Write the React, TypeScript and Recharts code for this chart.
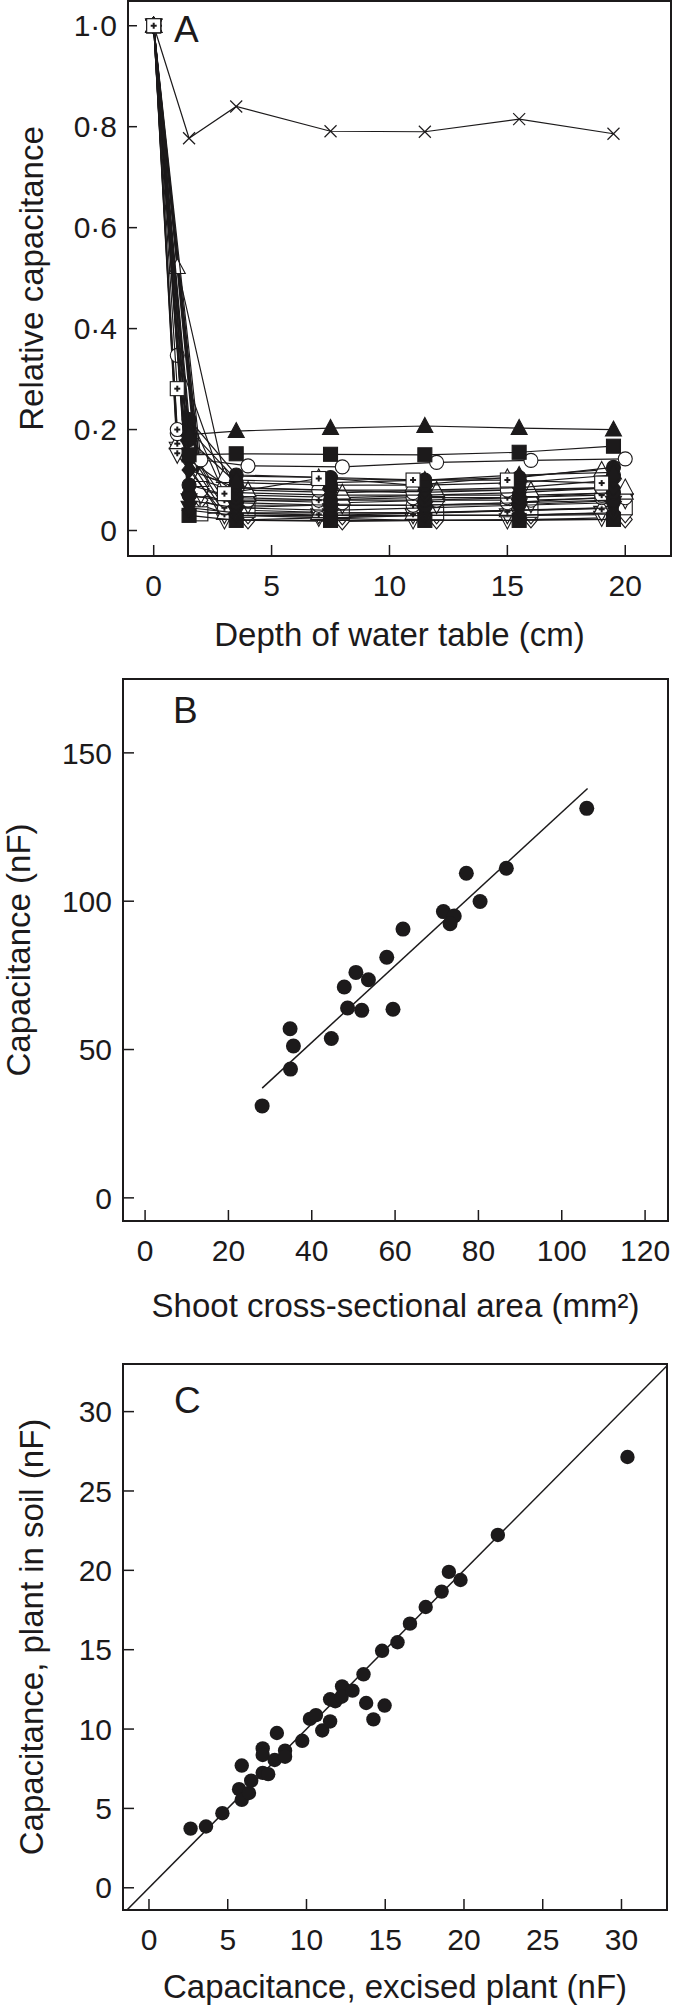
import React from 'react';
import {
  ScatterChart,
  Scatter,
  XAxis,
  YAxis,
  Label,
  ReferenceArea,
  ReferenceLine,
  ReferenceDot,
} from 'recharts';

const INK = '#1c1a1b';
const FONT = '"Liberation Sans", Arial, Helvetica, sans-serif';
const TICK_FS = 30;
const TITLE_FS = 33;
const LETTER_FS = 37;

// ---------------- Panel A data ----------------
const depthTicksA = [0, 5, 10, 15, 20];
const relTicksA = [0, 0.2, 0.4, 0.6, 0.8, 1.0];
// depth positions of the three marker groups (slightly staggered in the figure)
const depthFilled = [0, 1.5, 3.5, 7.5, 11.5, 15.5, 19.5];
const depthPlus = [0, 1, 3, 7, 11, 15, 19];
const depthOpen = [0, 2, 4, 8, 12, 16, 20];

const relCross = [1, 0.777, 0.84, 0.791, 0.79, 0.815, 0.786];
const relTriFilled = [1, 0.19, 0.197, 0.203, 0.207, 0.203, 0.2];
const relSqFilled = [1, 0.15, 0.152, 0.151, 0.15, 0.155, 0.167];
const relTriFilledB = [1, 0.2, 0.1, 0.095, 0.1, 0.11, 0.115];
const relCircFilledA = [1, 0.22, 0.11, 0.105, 0.1, 0.105, 0.125];
const relCircFilledC = [1, 0.18, 0.095, 0.09, 0.09, 0.095, 0.11];
const relDiaFilledC = [1, 0.14, 0.075, 0.07, 0.07, 0.075, 0.085];
const relDiaFilledA = [1, 0.12, 0.085, 0.08, 0.08, 0.085, 0.1];
const relCircFilledD = [1, 0.07, 0.055, 0.05, 0.05, 0.055, 0.06];
const relCircFilledB = [1, 0.09, 0.065, 0.06, 0.06, 0.065, 0.075];
const relTdFilled = [1, 0.06, 0.045, 0.04, 0.045, 0.05, 0.055];
const relTdFilledB = [1, 0.045, 0.035, 0.03, 0.035, 0.04, 0.045];
const relDiaFilledB = [1, 0.04, 0.03, 0.025, 0.03, 0.03, 0.035];
const relSqFilledB = [1, 0.03, 0.02, 0.02, 0.02, 0.02, 0.022];

const relSqPlus = [1, 0.281, 0.073, 0.103, 0.1, 0.1, 0.094];
const relTriOpenA = [1, 0.522, 0.108, 0.105, 0.09, 0.105, 0.12];
const relCircOpenB = [1, 0.347, 0.085, 0.08, 0.075, 0.08, 0.085];
const relCircPlus = [1, 0.192, 0.045, 0.05, 0.05, 0.055, 0.065];
const relCircPlusB = [1, 0.2, 0.06, 0.06, 0.065, 0.065, 0.07];
const relTdPlus = [1, 0.162, 0.02, 0.025, 0.02, 0.02, 0.025];
const relTdPlusB = [1, 0.15, 0.03, 0.03, 0.03, 0.03, 0.035];
const relTriPlus = [1, 0.175, 0.035, 0.035, 0.035, 0.04, 0.045];

const relCircOpen = [1, 0.14, 0.128, 0.126, 0.135, 0.139, 0.142];
const relSqOpen = [1, 0.033, 0.04, 0.035, 0.035, 0.04, 0.045];
const relDiaOpen = [1, 0.05, 0.02, 0.018, 0.02, 0.022, 0.022];
const relDiaOpenB = [1, 0.06, 0.03, 0.028, 0.03, 0.03, 0.032];
const relTriOpenB = [1, 0.1, 0.07, 0.065, 0.07, 0.07, 0.075];
const relTriOpenC = [1, 0.11, 0.08, 0.075, 0.08, 0.08, 0.085];
const relTdOpen = [1, 0.07, 0.05, 0.05, 0.05, 0.052, 0.06];
const relCircOpenC = [1, 0.08, 0.06, 0.055, 0.06, 0.06, 0.065];

// ---------------- Panel B data ----------------
const areaTicksB = [0, 20, 40, 60, 80, 100, 120];
const capTicksB = [0, 50, 100, 150];
const areaB = [28.1, 34.8, 35.6, 34.9, 44.7, 47.8, 48.6, 50.6, 52.0, 53.6, 58.0, 59.5, 61.9, 71.6, 74.2, 73.2, 77.1, 80.4, 86.7, 106.0];
const capB = [31.0, 57.0, 51.2, 43.4, 53.7, 71.1, 64.0, 76.0, 63.2, 73.5, 81.1, 63.6, 90.6, 96.5, 95.0, 92.4, 109.4, 99.9, 111.1, 131.3];
const fitAreaB = [28.1, 106.2];
const fitCapB = [37.0, 138.0];

// ---------------- Panel C data ----------------
const ticksC = [0, 5, 10, 15, 20, 25, 30];
const excisedC = [2.64, 3.62, 4.66, 5.89, 5.72, 5.89, 6.35, 6.49, 7.22, 7.22, 7.22, 7.57, 7.98, 8.12, 8.64, 8.64, 9.73, 10.22, 10.6, 11.0, 11.5, 11.5, 11.83, 12.26, 12.23, 12.92, 13.62, 13.79, 14.25, 14.96, 14.8, 15.78, 16.57, 17.57, 18.58, 19.04, 19.78, 22.15, 30.38];
const soilC = [3.73, 3.86, 4.7, 7.7, 6.21, 5.54, 5.97, 6.75, 8.78, 8.37, 7.24, 7.16, 8.05, 9.75, 8.64, 8.26, 9.26, 10.64, 10.88, 9.91, 10.48, 11.88, 11.75, 12.69, 12.04, 12.42, 13.45, 11.64, 10.61, 11.48, 14.93, 15.47, 16.64, 17.69, 18.66, 19.9, 19.39, 22.23, 27.14];
const oneToOne = [-5, 40];

// ---------------- helpers ----------------
const zip = (xs: number[], ys: number[]) => xs.map((x, i) => ({ x, y: ys[i] }));
const fmtDot = (v: number) => (v === 0 ? '0' : v.toFixed(1).replace('.', '\u00B7'));

type Kind =
  | 'cross' | 'triF' | 'triO' | 'triP' | 'sqF' | 'sqO' | 'sqP' | 'circF' | 'circO' | 'circP'
  | 'diaF' | 'diaO' | 'tdF' | 'tdO' | 'tdP';

const marker = (kind: Kind) => (p: any) => {
  const { cx, cy } = p;
  if (cx == null || cy == null || isNaN(cx) || isNaN(cy)) return <g />;
  const s = 7;
  const filled = kind.endsWith('F');
  const fill = filled ? INK : '#fff';
  const sw = 1.1;
  const dy = kind === 'triP' ? 1.5 : kind === 'tdP' ? -1.5 : 0;
  const plus = kind.endsWith('P') ? (
    <g stroke={INK} strokeWidth={2}>
      <line x1={cx - 3} y1={cy + dy} x2={cx + 3} y2={cy + dy} />
      <line x1={cx} y1={cy - 3 + dy} x2={cx} y2={cy + 3 + dy} />
    </g>
  ) : null;
  let shape: React.ReactNode = null;
  if (kind === 'cross') {
    return (
      <g stroke={INK} strokeWidth={1.2}>
        <line x1={cx - 6} y1={cy - 6} x2={cx + 6} y2={cy + 6} />
        <line x1={cx - 6} y1={cy + 6} x2={cx + 6} y2={cy - 6} />
      </g>
    );
  }
  if (kind.startsWith('tri')) {
    shape = <polygon points={`${cx},${cy - 8.5} ${cx + 8},${cy + 6.5} ${cx - 8},${cy + 6.5}`} fill={fill} stroke={INK} strokeWidth={sw} />;
  } else if (kind.startsWith('td')) {
    shape = <polygon points={`${cx},${cy + 8.5} ${cx + 8},${cy - 6.5} ${cx - 8},${cy - 6.5}`} fill={fill} stroke={INK} strokeWidth={sw} />;
  } else if (kind.startsWith('sq')) {
    shape = <rect x={cx - s} y={cy - s} width={2 * s} height={2 * s} fill={fill} stroke={INK} strokeWidth={sw} />;
  } else if (kind.startsWith('circ')) {
    shape = <circle cx={cx} cy={cy} r={s} fill={fill} stroke={INK} strokeWidth={sw} />;
  } else if (kind.startsWith('dia')) {
    shape = <polygon points={`${cx},${cy - 8.5} ${cx + 7},${cy} ${cx},${cy + 8.5} ${cx - 7},${cy}`} fill={fill} stroke={INK} strokeWidth={sw} />;
  }
  return (
    <g>
      {shape}
      {plus}
    </g>
  );
};

const seriesA: { kind: Kind; xs: number[]; ys: number[] }[] = [
  { kind: 'diaO', xs: depthOpen, ys: relDiaOpen },
  { kind: 'diaO', xs: depthOpen, ys: relDiaOpenB },
  { kind: 'sqO', xs: depthOpen, ys: relSqOpen },
  { kind: 'tdO', xs: depthOpen, ys: relTdOpen },
  { kind: 'circO', xs: depthOpen, ys: relCircOpenC },
  { kind: 'triO', xs: depthOpen, ys: relTriOpenB },
  { kind: 'triO', xs: depthOpen, ys: relTriOpenC },
  { kind: 'tdP', xs: depthPlus, ys: relTdPlus },
  { kind: 'tdP', xs: depthPlus, ys: relTdPlusB },
  { kind: 'triP', xs: depthPlus, ys: relTriPlus },
  { kind: 'circP', xs: depthPlus, ys: relCircPlus },
  { kind: 'circP', xs: depthPlus, ys: relCircPlusB },
  { kind: 'circO', xs: depthPlus, ys: relCircOpenB },
  { kind: 'triO', xs: depthPlus, ys: relTriOpenA },
  { kind: 'sqF', xs: depthFilled, ys: relSqFilledB },
  { kind: 'diaF', xs: depthFilled, ys: relDiaFilledB },
  { kind: 'tdF', xs: depthFilled, ys: relTdFilledB },
  { kind: 'tdF', xs: depthFilled, ys: relTdFilled },
  { kind: 'circF', xs: depthFilled, ys: relCircFilledD },
  { kind: 'circF', xs: depthFilled, ys: relCircFilledB },
  { kind: 'diaF', xs: depthFilled, ys: relDiaFilledC },
  { kind: 'diaF', xs: depthFilled, ys: relDiaFilledA },
  { kind: 'circF', xs: depthFilled, ys: relCircFilledC },
  { kind: 'circF', xs: depthFilled, ys: relCircFilledA },
  { kind: 'triF', xs: depthFilled, ys: relTriFilledB },
  { kind: 'circO', xs: depthOpen, ys: relCircOpen },
  { kind: 'sqF', xs: depthFilled, ys: relSqFilled },
  { kind: 'triF', xs: depthFilled, ys: relTriFilled },
  { kind: 'cross', xs: depthFilled, ys: relCross },
  { kind: 'sqP', xs: depthPlus, ys: relSqPlus },
];

const tickStyle = { fill: INK, fontSize: TICK_FS, fontFamily: FONT };
const tickLineStyle = { stroke: INK, strokeWidth: 1.5 };
const titleStyle = { fontSize: TITLE_FS, fontFamily: FONT, fill: INK };

const dotShape = (r: number) => (p: any) => <circle cx={p.cx} cy={p.cy} r={r} fill={INK} />;

function PanelA() {
  const xd: [number, number] = [-1.09, 21.94];
  const yd: [number, number] = [-0.0505, 1.049];
  return (
    <ScatterChart width={673} height={660} margin={{ top: 1, right: 2, bottom: 0, left: 0 }}>
      <XAxis type="number" dataKey="x" domain={xd} allowDataOverflow ticks={depthTicksA} interval={0}
        axisLine={false} tickSize={-11} tickMargin={30} tickLine={tickLineStyle} tick={tickStyle} height={104}>
        <Label value="Depth of water table (cm)" position="insideBottom" offset={14} {...titleStyle} />
      </XAxis>
      <YAxis type="number" dataKey="y" domain={yd} allowDataOverflow ticks={relTicksA} interval={0}
        tickFormatter={fmtDot} axisLine={false} tickSize={-9} tickMargin={20} tickLine={tickLineStyle} tick={tickStyle} width={128}>
        <Label value="Relative capacitance" angle={-90} position="insideLeft" offset={31} style={{ textAnchor: 'middle' }} {...titleStyle} />
      </YAxis>
      <ReferenceArea x1={xd[0]} x2={xd[1]} y1={yd[0]} y2={yd[1]} fill="none" fillOpacity={0} stroke={INK} strokeWidth={2} ifOverflow="visible" />
      {seriesA.map((s, i) => (
        <Scatter key={i} data={zip(s.xs, s.ys)} line={{ stroke: INK, strokeWidth: 1.2 }} lineType="joint"
          shape={marker(s.kind)} isAnimationActive={false} />
      ))}
      <ReferenceDot x={0.86} y={0.994} r={0} fill="none" stroke="none" ifOverflow="visible"
        label={{ value: 'A', position: 'right', offset: 0, fontSize: LETTER_FS, fontFamily: FONT, fill: INK }} />
    </ScatterChart>
  );
}

function PanelB() {
  const xd: [number, number] = [-5.3, 125.5];
  const yd: [number, number] = [-7.8, 174.9];
  return (
    <ScatterChart width={673} height={680} margin={{ top: 19, right: 5, bottom: 0, left: 0 }}>
      <XAxis type="number" dataKey="x" domain={xd} allowDataOverflow ticks={areaTicksB} interval={0}
        axisLine={false} tickSize={-11} tickMargin={30} tickLine={tickLineStyle} tick={tickStyle} height={119}>
        <Label value="Shoot cross-sectional area (mm²)" position="insideBottom" offset={23} {...titleStyle} />
      </XAxis>
      <YAxis type="number" dataKey="y" domain={yd} allowDataOverflow ticks={capTicksB} interval={0}
        axisLine={false} tickSize={-11} tickMargin={22} tickLine={tickLineStyle} tick={tickStyle} width={123}>
        <Label value="Capacitance (nF)" angle={-90} position="insideLeft" offset={18} style={{ textAnchor: 'middle' }} {...titleStyle} />
      </YAxis>
      <ReferenceArea x1={xd[0]} x2={xd[1]} y1={yd[0]} y2={yd[1]} fill="none" fillOpacity={0} stroke={INK} strokeWidth={2} ifOverflow="visible" />
      <ReferenceLine segment={[{ x: fitAreaB[0], y: fitCapB[0] }, { x: fitAreaB[1], y: fitCapB[1] }]} stroke={INK} strokeWidth={1.5} />
      <Scatter data={zip(areaB, capB)} shape={dotShape(7.5)} isAnimationActive={false} />
      <ReferenceDot x={6.7} y={164.4} r={0} fill="none" stroke="none" ifOverflow="visible"
        label={{ value: 'B', position: 'right', offset: 0, fontSize: LETTER_FS, fontFamily: FONT, fill: INK }} />
    </ScatterChart>
  );
}

function PanelC() {
  const xd: [number, number] = [-1.65, 32.89];
  const yd: [number, number] = [-1.4, 33.0];
  return (
    <ScatterChart width={673} height={666} margin={{ top: 24, right: 6, bottom: 0, left: 0 }}>
      <XAxis type="number" dataKey="x" domain={xd} allowDataOverflow ticks={ticksC} interval={0}
        axisLine={false} tickSize={-11} tickMargin={30} tickLine={tickLineStyle} tick={tickStyle} height={96}>
        <Label value="Capacitance, excised plant (nF)" position="insideBottom" offset={8} {...titleStyle} />
      </XAxis>
      <YAxis type="number" dataKey="y" domain={yd} allowDataOverflow ticks={ticksC} interval={0}
        axisLine={false} tickSize={-11} tickMargin={22} tickLine={tickLineStyle} tick={tickStyle} width={123}>
        <Label value="Capacitance, plant in soil (nF)" angle={-90} position="insideLeft" offset={31} style={{ textAnchor: 'middle' }} {...titleStyle} />
      </YAxis>
      <ReferenceArea x1={xd[0]} x2={xd[1]} y1={yd[0]} y2={yd[1]} fill="none" fillOpacity={0} stroke={INK} strokeWidth={2} ifOverflow="visible" />
      <ReferenceLine segment={[{ x: oneToOne[0], y: oneToOne[0] }, { x: oneToOne[1], y: oneToOne[1] }]} stroke={INK} strokeWidth={1.5} ifOverflow="hidden" />
      <Scatter data={zip(excisedC, soilC)} shape={dotShape(7.2)} isAnimationActive={false} />
      <ReferenceDot x={1.59} y={30.74} r={0} fill="none" stroke="none" ifOverflow="visible"
        label={{ value: 'C', position: 'right', offset: 0, fontSize: LETTER_FS, fontFamily: FONT, fill: INK }} />
    </ScatterChart>
  );
}

export default function App() {
  return (
    <div style={{ position: 'absolute', left: 0, top: 0, width: 673, height: 2006, background: '#fff', overflow: 'hidden' }}>
      <div style={{ position: 'absolute', left: 0, top: 0 }}>
        <PanelA />
      </div>
      <div style={{ position: 'absolute', left: 0, top: 660 }}>
        <PanelB />
      </div>
      <div style={{ position: 'absolute', left: 0, top: 1340 }}>
        <PanelC />
      </div>
    </div>
  );
}
